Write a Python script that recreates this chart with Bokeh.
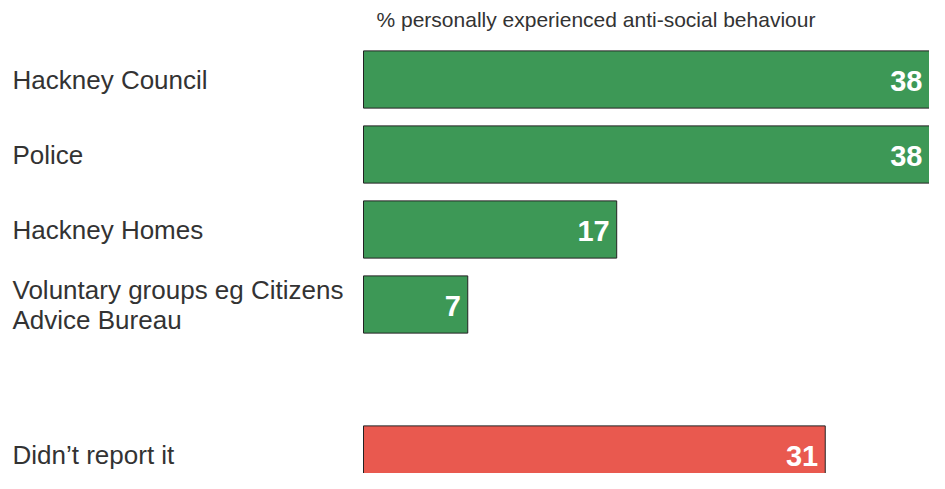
from bokeh.plotting import figure
from bokeh.models import Range1d, ColumnDataSource
from bokeh.core.properties import value
from bokeh.embed import file_html
from bokeh.resources import INLINE

# ---- data ----
categories = ["Hackney Council", "Police", "Hackney Homes",
              "Voluntary groups eg Citizens\nAdvice Bureau", "Didn\u2019t report it"]
values = [38, 38, 17, 7, 31]
groups = ["reported", "reported", "reported", "reported", "not reported"]
title_text = "% personally experienced anti-social behaviour"

# ---- layout ----
W, H = 929, 473
LEFT_PX = 363          # pixel where bars start
FIRST_PX = 79          # pixel centre of first slot
SLOT_PX = 75
BAR_FRAC = 58 / 76
x_max = max(values)
scale = (W - LEFT_PX) / x_max

colors = {"reported": "#3d9856", "not reported": "#e9594f"}

# slot positions: a one-slot gap between groups
slots = []
s = 0
prev = groups[0]
for g in groups:
    if g != prev:
        s += 1
        prev = g
    slots.append(s)
    s += 1

src = ColumnDataSource(dict(
    y=slots, v=values, cat=categories,
    color=[colors[g] for g in groups],
    lab=[str(v) for v in values],
))

p = figure(width=W, height=H, output_backend="svg", toolbar_location=None,
           x_range=Range1d(-LEFT_PX / scale, x_max),
           y_range=Range1d((H - FIRST_PX) / SLOT_PX, -FIRST_PX / SLOT_PX),
           min_border=0, outline_line_color=None)
p.axis.visible = False
p.grid.visible = False
p.background_fill_color = "white"
p.border_fill_color = "white"

p.hbar(y="y", left=0, right="v", height=BAR_FRAC, source=src,
       fill_color="color", line_color="#222222", line_width=1)

p.text(x=-LEFT_PX / scale, y="y", text="cat", source=src, x_offset=12,
       text_font=value("Liberation Sans"), text_font_size="26px",
       text_color="#333333", text_baseline="middle", text_align="left",
       text_line_height=1.0)

p.text(x="v", y="y", text="lab", source=src, x_offset=-7, y_offset=1,
       text_font=value("Liberation Sans"), text_font_size="29px",
       text_font_style="bold", text_color="white",
       text_baseline="middle", text_align="right")

p.text(x=[0], y=[(19 - FIRST_PX) / SLOT_PX], text=[title_text], x_offset=13,
       text_font=value("Liberation Sans"), text_font_size="21px",
       text_color="#333333", text_baseline="middle", text_align="left")

open("out.html", "w").write(file_html(p, INLINE))
